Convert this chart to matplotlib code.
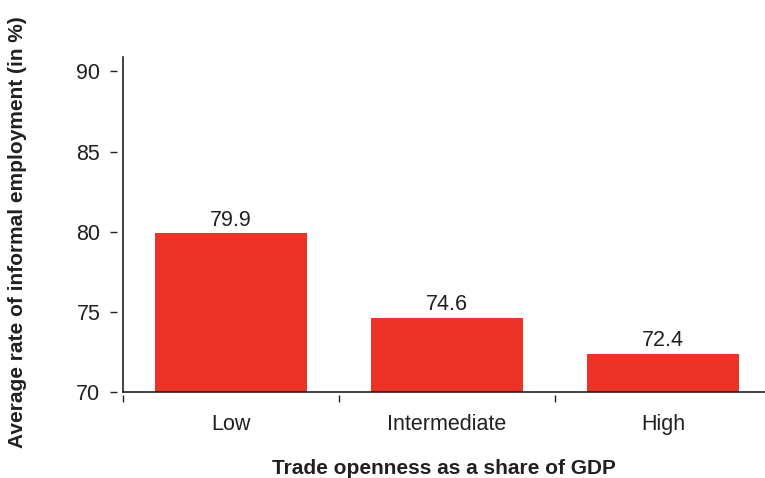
import numpy as np
import matplotlib.pyplot as plt
from matplotlib.ticker import FixedLocator, NullFormatter

plt.rcParams['font.family'] = ['Liberation Sans', 'DejaVu Sans']

categories = ["Low", "Intermediate", "High"]
informal_rate = [79.9, 74.6, 72.4]
y_ticks = [70, 75, 80, 85, 90]

BAR_COLOR = '#ec3326'
TEXT_COLOR = '#231f20'

W, H = 765, 478
fig = plt.figure(figsize=(W / 100, H / 100), dpi=100)
ax = fig.add_axes([123 / W, (H - 392) / H, 648 / W, (392 - 57) / H])

x = np.arange(len(categories))
bars = ax.bar(x, informal_rate, width=0.70, color=BAR_COLOR, zorder=2)

for xi, val in zip(x, informal_rate):
    ax.annotate(f'{val:.1f}', (xi, val), xytext=(0, 2), textcoords='offset points',
                ha='center', va='bottom', fontsize=15.5, color=TEXT_COLOR)

ax.set_xlim(-0.5, len(categories) - 0.5)
ax.set_ylim(70, 90.9)

# spines: ticks sit a little away from the axis lines
for side in ('top', 'right'):
    ax.spines[side].set_visible(False)
ax.spines['left'].set_position(('outward', 4.3))
ax.spines['left'].set_color('none')
ax.spines['bottom'].set_position(('outward', 2.2))
ax.spines['bottom'].set_color('none')
ax.plot([0, 0], [0, 1], transform=ax.transAxes, color=TEXT_COLOR, lw=1.2, clip_on=False)
ax.plot([0, 1], [0, 0], transform=ax.transAxes, color=TEXT_COLOR, lw=1.2, clip_on=False)

ax.set_yticks(y_ticks)
ax.tick_params(axis='y', direction='out', length=5, width=1, color=TEXT_COLOR,
               pad=7, labelsize=15.5, labelcolor=TEXT_COLOR)

# boundary ticks unlabeled, category names at the centres
ax.xaxis.set_major_locator(FixedLocator(np.arange(len(categories) + 1) - 0.5))
ax.xaxis.set_major_formatter(NullFormatter())
ax.xaxis.set_minor_locator(FixedLocator(x))
ax.set_xticks(x, categories, minor=True)
ax.tick_params(axis='x', which='major', direction='out', length=5, width=1, color=TEXT_COLOR)
ax.tick_params(axis='x', which='minor', length=0, pad=13.5, labelsize=15.5, labelcolor=TEXT_COLOR)

fig.text(444 / W, 1 - 468 / H, 'Trade openness as a share of GDP', ha='center', va='center',
         fontsize=15, fontweight='bold', color=TEXT_COLOR)
fig.text(18 / W, 1 - 232 / H, 'Average rate of informal employment (in %)', ha='center',
         va='center', rotation=90, fontsize=15, fontweight='bold', color=TEXT_COLOR)

fig.savefig('out.png', dpi=100)
